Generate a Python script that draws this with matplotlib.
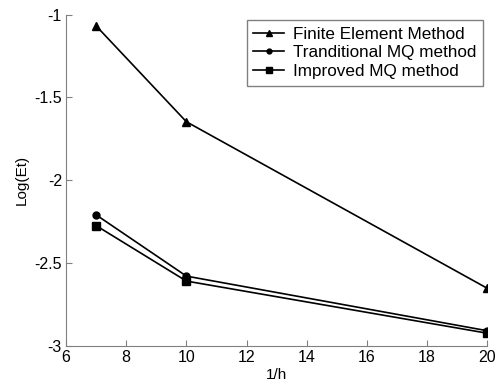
import matplotlib
matplotlib.use("Agg")
import matplotlib.pyplot as plt

plt.rcParams['font.family'] = ['Liberation Sans', 'DejaVu Sans']

x = [7, 10, 20]
fem = [-1.068, -1.647, -2.653]
trad = [-2.21, -2.58, -2.91]
improved = [-2.275, -2.61, -2.925]
labels = ["Finite Element Method", "Tranditional MQ method", "Improved MQ method"]

fig = plt.figure(figsize=(4.97, 3.87), dpi=100)
ax = fig.add_axes([0.133, 0.107, 0.847, 0.855])
ax.plot(x, fem, '-^', color='black', lw=1.2, ms=6, label=labels[0])
ax.plot(x, trad, '-o', color='black', lw=1.2, ms=5, label=labels[1])
ax.plot(x, improved, '-s', color='black', lw=1.2, ms=5.5, label=labels[2])

ax.set_xlim(6, 20)
ax.set_ylim(-3, -1)
ax.set_xticks([6, 8, 10, 12, 14, 16, 18, 20])
ax.set_yticks([-3, -2.5, -2, -1.5, -1])
ax.set_yticklabels(['-3', '-2.5', '-2', '-1.5', '-1'])
ax.set_xlabel('1/h', fontsize=11, labelpad=2)
ax.set_ylabel('Log(Et)', fontsize=11, labelpad=4)
for s in ['top', 'right']:
    ax.spines[s].set_visible(False)
for s in ['left', 'bottom']:
    ax.spines[s].set_color('#808080')
ax.tick_params(direction='in', length=4, color='#808080', labelsize=11.5, pad=3)

leg = ax.legend(loc='upper right', bbox_to_anchor=(0.99, 0.985), fontsize=12.3,
                frameon=True, fancybox=False, handlelength=1.8, handletextpad=0.5,
                borderpad=0.4, labelspacing=0.22, borderaxespad=0, markerscale=0.7)
leg.get_frame().set_edgecolor('#606060')
leg.get_frame().set_linewidth(1.0)

fig.savefig('out.png', dpi=100)
